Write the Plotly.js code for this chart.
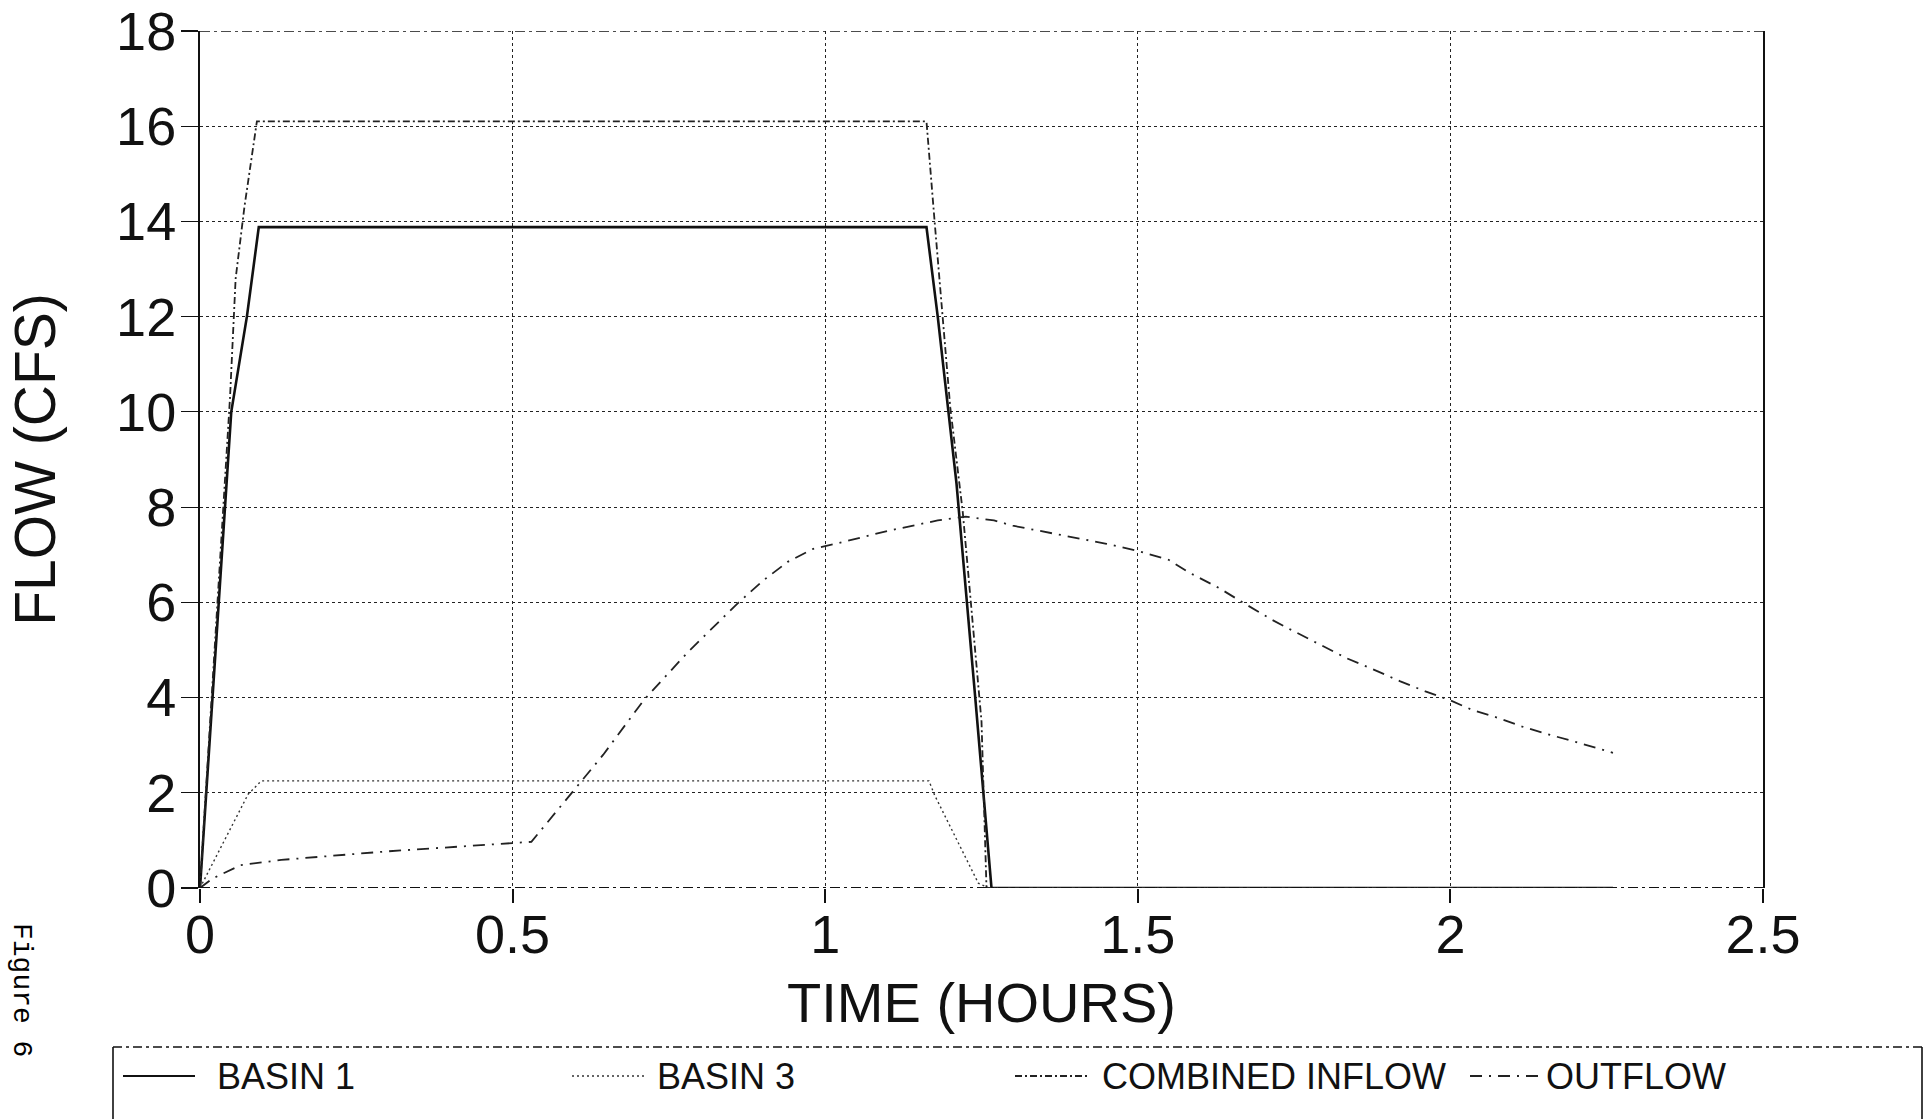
<!DOCTYPE html>
<html>
<head>
<meta charset="utf-8">
<script src="https://cdn.plot.ly/plotly-3.0.1.min.js"></script>
<style>
  html, body { margin: 0; padding: 0; background: #ffffff; }
  #chart { width: 1929px; height: 1119px; }
</style>
</head>
<body>
<div id="chart"></div>
<script>
// ---------- data ----------
const seriesNames = ['BASIN 1', 'BASIN 3', 'COMBINED INFLOW', 'OUTFLOW'];

const basin1Time = [0, 0.019, 0.03, 0.05, 0.075, 0.094, 1.162, 1.18, 1.21, 1.24, 1.266, 2.26];
const basin1Flow = [0, 3.9, 6.0, 10.0, 12.0, 13.88, 13.88, 12.0, 8.5, 4.0, 0, 0];

const basin3Time = [0, 0.077, 0.098, 1.166, 1.175, 1.245, 1.262, 2.26];
const basin3Flow = [0, 1.97, 2.25, 2.25, 1.95, 0.1, 0, 0];

const combinedTime = [0, 0.048, 0.057, 0.071, 0.091, 1.162, 1.175, 1.2, 1.22, 1.25, 1.258, 2.26];
const combinedFlow = [0, 10.3, 12.8, 14.3, 16.1, 16.1, 14.0, 10.1, 7.9, 3.5, 0, 0];

const outflowTime = [0, 0.02, 0.065, 0.13, 0.3, 0.53, 0.645, 0.71, 0.78, 0.86, 0.9, 0.94, 0.98, 1.02,
  1.1, 1.18, 1.225, 1.27, 1.3, 1.37, 1.45, 1.5, 1.55, 1.58, 1.63, 1.67, 1.715, 1.75, 1.79, 1.835,
  1.87, 1.92, 1.96, 2.0, 2.035, 2.07, 2.115, 2.15, 2.2, 2.26];
const outflowFlow = [0, 0.2, 0.48, 0.59, 0.77, 0.97, 2.8, 3.95, 4.95, 5.98, 6.45, 6.85, 7.12, 7.24,
  7.5, 7.72, 7.8, 7.72, 7.61, 7.44, 7.23, 7.08, 6.89, 6.64, 6.3, 5.98, 5.63, 5.39, 5.13, 4.82,
  4.63, 4.34, 4.13, 3.94, 3.74, 3.6, 3.39, 3.25, 3.07, 2.84];

const xTickVals = [0, 0.5, 1, 1.5, 2, 2.5];
const xTickText = ['0', '0.5', '1', '1.5', '2', '2.5'];
const yTickVals = [0, 2, 4, 6, 8, 10, 12, 14, 16, 18];
const yTickText = ['0', '2', '4', '6', '8', '10', '12', '14', '16', '18'];

const xTitle = 'TIME (HOURS)';
const yTitle = 'FLOW (CFS)';
const figureLabel = 'Figure 6';

// ---------- styles ----------
const INK = '#111111';
const FONT = '"Liberation Sans", Arial, Helvetica, sans-serif';
const styles = [
  { color: '#111111', width: 2.6, dash: 'solid' },
  { color: '#333333', width: 1.4, dash: '2px,3px' },
  { color: '#222222', width: 1.8, dash: '7px,3px,2px,3px' },
  { color: '#222222', width: 1.8, dash: '12px,7px,2px,7px' }
];

const times = [basin1Time, basin3Time, combinedTime, outflowTime];
const flows = [basin1Flow, basin3Flow, combinedFlow, outflowFlow];

const traces = seriesNames.map((name, i) => ({
  type: 'scatter',
  mode: 'lines',
  name: name,
  x: times[i],
  y: flows[i],
  line: { color: styles[i].color, width: styles[i].width, dash: styles[i].dash },
  showlegend: false,
  hoverinfo: 'skip'
}));

// ---------- layout geometry (pixels) ----------
const FIG_W = 1929, FIG_H = 1119;
const PL = 200, PR = 1763, PT = 31, PB = 888;
const pw = PR - PL, ph = PB - PT;
const px = X => (X - PL) / pw;         // pixel x -> paper x
const py = Y => (PB - Y) / ph;         // pixel y -> paper y

const shapes = [
  // top frame (dash-dot) and bottom frame
  { type: 'line', xref: 'x', yref: 'y', x0: 0, x1: 2.5, y0: 18, y1: 18,
    line: { color: INK, width: 1.6, dash: '10px,4px,3px,4px' } },
  { type: 'line', xref: 'x', yref: 'y', x0: 0, x1: 2.5, y0: 0, y1: 0,
    line: { color: INK, width: 2, dash: '10px,4px,3px,4px' } },
  // legend box
  { type: 'line', xref: 'paper', yref: 'paper', x0: px(113), x1: px(1922), y0: py(1047), y1: py(1047),
    line: { color: INK, width: 1.4, dash: '9px,4px,3px,4px' } },
  { type: 'line', xref: 'paper', yref: 'paper', x0: px(113), x1: px(113), y0: py(1047), y1: py(1125),
    line: { color: INK, width: 1.6 } },
  { type: 'line', xref: 'paper', yref: 'paper', x0: px(1922), x1: px(1922), y0: py(1047), y1: py(1125),
    line: { color: INK, width: 1.6 } }
];

const legendSampleX = [123, 572, 1015, 1470];
const legendTextX = [215, 655, 1100, 1544];
const legendY = 1076;
const annotations = [];
seriesNames.forEach((name, i) => {
  shapes.push({ type: 'line', xref: 'paper', yref: 'paper',
    x0: px(legendSampleX[i]), x1: px(legendSampleX[i] + 72), y0: py(legendY), y1: py(legendY),
    line: { color: styles[i].color, width: Math.min(styles[i].width, 2), dash: styles[i].dash } });
  annotations.push({ xref: 'paper', yref: 'paper', x: px(legendTextX[i]), y: py(legendY),
    xanchor: 'left', yanchor: 'middle', showarrow: false, text: name,
    font: { family: FONT, size: 36, color: INK } });
});
annotations.push({ xref: 'paper', yref: 'paper', x: px(22), y: py(990), xanchor: 'center', yanchor: 'middle',
  showarrow: false, text: figureLabel, textangle: 90,
  font: { family: '"Courier New", "Liberation Mono", monospace', size: 28, color: '#000' } });

const layout = {
  width: FIG_W, height: FIG_H,
  margin: { l: PL, r: FIG_W - PR, t: PT, b: FIG_H - PB, pad: 0 },
  paper_bgcolor: '#ffffff', plot_bgcolor: '#ffffff',
  font: { family: FONT, color: INK },
  showlegend: false,
  xaxis: {
    range: [0, 2.5], tickmode: 'array', tickvals: xTickVals, ticktext: xTickText,
    showgrid: true, gridcolor: '#222222', gridwidth: 1, griddash: 'dot',
    zeroline: false, showline: false,
    ticks: 'outside', ticklen: 14, tickwidth: 2, tickcolor: INK,
    ticklabelstandoff: -15, ticklabeloverflow: 'allow',
    tickfont: { family: FONT, size: 54, color: INK },
    title: { text: xTitle, font: { family: FONT, size: 56, color: INK }, standoff: 20 }
  },
  yaxis: {
    range: [0, 18], tickmode: 'array', tickvals: yTickVals, ticktext: yTickText,
    showgrid: true, gridcolor: '#222222', gridwidth: 1, griddash: 'dot',
    zeroline: false, showline: true, mirror: true, linecolor: INK, linewidth: 2,
    ticks: 'outside', ticklen: 17, tickwidth: 1.2, tickcolor: INK,
    ticklabelstandoff: -6, ticklabeloverflow: 'allow',
    tickfont: { family: FONT, size: 54, color: INK },
    title: { text: yTitle, font: { family: FONT, size: 57, color: INK }, standoff: 42 }
  },
  shapes: shapes,
  annotations: annotations
};

Plotly.newPlot('chart', traces, layout, { staticPlot: true, displayModeBar: false });
</script>
</body>
</html>
